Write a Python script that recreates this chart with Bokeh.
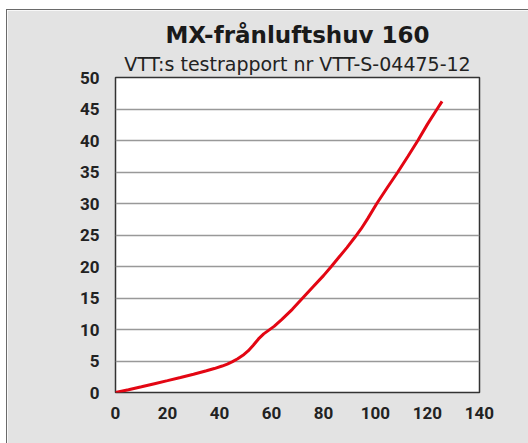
from bokeh.plotting import figure
from bokeh.models import Title, Range1d, FixedTicker
from bokeh.embed import file_html
from bokeh.resources import INLINE

# Data (airflow vs pressure drop)
flow = [0, 5, 10, 15, 20, 25, 30, 35, 38, 41, 43, 45, 47, 49, 51, 53, 55, 57,
        59, 61, 64, 68, 72, 76, 80, 83, 86, 89, 92, 94.5, 97, 100.5, 104.5,
        108.6, 112.5, 116.3, 120, 123.7, 125.6]
pressure = [0, 0.45, 0.92, 1.4, 1.88, 2.38, 2.9, 3.45, 3.8, 4.2, 4.5, 4.9, 5.35,
            5.9, 6.6, 7.5, 8.5, 9.3, 9.9, 10.5, 11.6, 13.2, 15, 16.8, 18.55, 20,
            21.5, 23, 24.6, 26, 27.6, 30, 32.5, 35, 37.5, 40, 42.6, 45, 46.2]
x_ticks = [0, 20, 40, 60, 80, 100, 120, 140]
y_ticks = [0, 5, 10, 15, 20, 25, 30, 35, 40, 45, 50]

title_text = "MX-frånluftshuv 160"
subtitle_text = "VTT:s testrapport nr VTT-S-04475-12"

BG = "#e3e3e3"

p = figure(width=528, height=440, output_backend="svg", toolbar_location=None,
           x_range=Range1d(0, 140), y_range=Range1d(0, 50),
           min_border_left=108, min_border_right=56, min_border_top=67,
           min_border_bottom=58, title=None)

p.background_fill_color = "white"
p.border_fill_color = BG
p.outline_line_color = "#333333"
p.outline_line_width = 1.5

sub = Title(text=subtitle_text, align="center", text_font="DejaVu Sans",
            text_font_size="19px", text_font_style="normal", text_color="#222222",
            standoff=6)
p.add_layout(sub, "above")
main = Title(text=title_text, align="center", text_font="DejaVu Sans",
             text_font_size="23px", text_font_style="bold", text_color="#1a1a1a",
             standoff=0)
p.add_layout(main, "above")

for ax in (p.xaxis, p.yaxis):
    ax.axis_line_color = None
    ax.major_tick_line_color = None
    ax.minor_tick_line_color = None
    ax.major_label_text_font = "Roboto"
    ax.major_label_text_font_style = "bold"
    ax.major_label_text_font_size = "17px"
    ax.major_label_text_color = "#222222"

p.xaxis.ticker = FixedTicker(ticks=x_ticks)
p.yaxis.ticker = FixedTicker(ticks=y_ticks)
p.xaxis.major_label_standoff = 8
p.yaxis.major_label_standoff = 10

p.xgrid.grid_line_color = None
p.ygrid.ticker = FixedTicker(ticks=y_ticks)
p.ygrid.grid_line_color = "#999999"
p.ygrid.grid_line_width = 1.5

p.line(flow, pressure, line_color="#e30613", line_width=3)

p.styles = {"margin-left": "6px", "margin-top": "9px",
            "border-left": "1.5px solid #6a6a6a", "border-top": "1.5px solid #6a6a6a"}

open("out.html", "w").write(file_html(p, INLINE))
